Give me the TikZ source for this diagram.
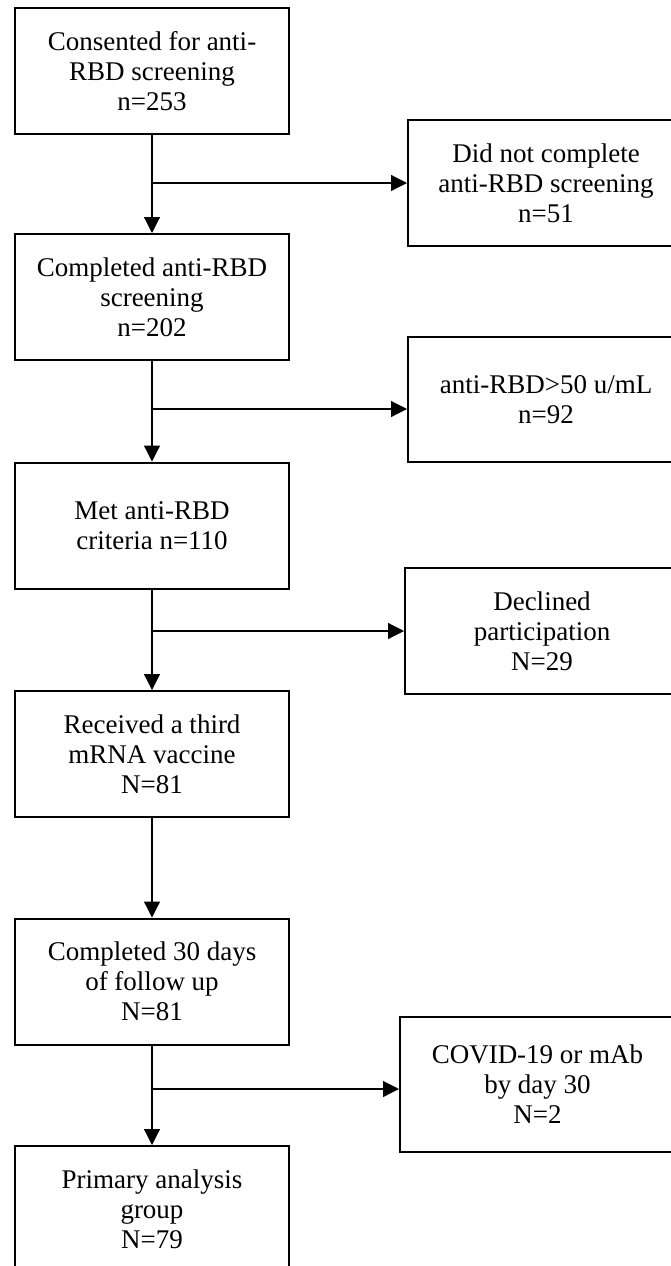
\documentclass[tikz,border=0pt]{standalone}
\usepackage{fontspec}
\setmainfont{Liberation Serif}
\usetikzlibrary{arrows.meta}
\begin{document}
\begin{tikzpicture}[x=1pt,y=-1pt,
  box/.style={draw,line width=2pt,minimum width=274pt,minimum height=126pt,align=center,inner sep=0pt,font=\fontsize{27}{30}\selectfont},
  arr/.style={line width=1.2pt,-{Triangle[length=16pt,width=16pt]}}]
\useasboundingbox (0,0) rectangle (671,1266);
% left column
\node[box] (b1) at (152,71) {Consented for anti-\\RBD screening\\n=253};
\node[box] (b2) at (152,297) {Completed anti-RBD\\screening\\n=202};
\node[box] (b3) at (152,525.5) {Met anti-RBD\\criteria n=110};
\node[box] (b4) at (152,754) {Received a third\\mRNA vaccine\\N=81};
\node[box] (b5) at (152,981.5) {Completed 30 days\\of follow up\\N=81};
\node[box] (b6) at (152,1209) {Primary analysis\\group\\N=79};
% right column
\node[box,minimum width=276pt] (r1) at (546,183) {Did not complete\\anti-RBD screening\\n=51};
\node[box,minimum width=276pt,minimum height=125pt] (r2) at (546,399.5) {anti-RBD>50 u/mL\\n=92};
\node[box] (r3) at (542,631) {Declined\\participation\\N=29};
\node[box,minimum width=275pt,minimum height=135pt] (r5) at (537.5,1084.5) {COVID-19 or mAb\\by day 30\\N=2};
% vertical arrows
\draw[arr] (b1) -- (b2);
\draw[arr] (b2) -- (b3);
\draw[arr] (b3) -- (b4);
\draw[arr] (b4) -- (b5);
\draw[arr] (b5) -- (b6);
% branches
\coordinate (j1) at (152,183);
\coordinate (j2) at (152,409);
\coordinate (j3) at (152,631);
\coordinate (j5) at (152,1089);
\draw[arr] (j1) -- (j1 -| r1.west);
\draw[arr] (j2) -- (j2 -| r2.west);
\draw[arr] (j3) -- (j3 -| r3.west);
\draw[arr] (j5) -- (j5 -| r5.west);
\end{tikzpicture}
\end{document}
